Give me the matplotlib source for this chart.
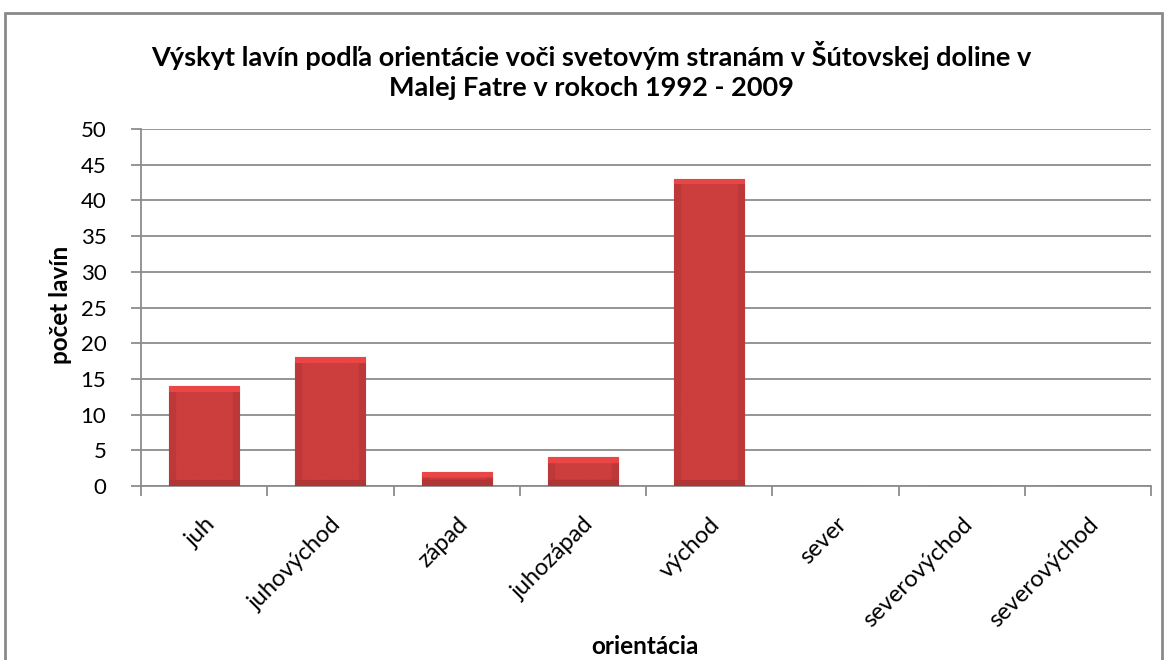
import numpy as np
import matplotlib
matplotlib.use("Agg")
import matplotlib.pyplot as plt
from matplotlib.patches import Rectangle
from matplotlib.transforms import ScaledTranslation

plt.rcParams["font.family"] = ["Lato", "DejaVu Sans"]

categories = ["juh", "juhovýchod", "západ", "juhozápad", "východ",
              "sever", "severovýchod", "severovýchod"]
counts = [14, 18, 2, 4, 43, 0, 0, 0]
y_ticks = list(range(0, 51, 5))

title = ("Výskyt lavín podľa orientácie voči svetovým stranám v Šútovskej doline v\n"
         "Malej Fatre v rokoch 1992 - 2009")

fig = plt.figure(figsize=(11.67, 6.6), dpi=100)
ax = fig.add_axes([141 / 1167, 1 - 486 / 660, 1010 / 1167, 357 / 660])

# outer chart frame
fig.patches.append(Rectangle((5 / 1167, -0.05), 1157 / 1167, 1.05 - 13 / 660,
                             transform=fig.transFigure, fill=False,
                             edgecolor="#8a8a8a", linewidth=2))

x = np.arange(len(categories))
bar_w = 0.555
bars = ax.bar(x, counts, width=bar_w, color="#c93c3c", edgecolor="#8e2626",
              linewidth=0.8, zorder=3)


def bevel_image(h_px, w_px=60, edge=6):
    # simple bevel shading: lighter top band, darker sides and bottom
    base = np.array([0.80, 0.24, 0.24])
    img = np.ones((h_px, w_px, 3)) * base
    for i in range(h_px):
        for j in range(w_px):
            f = 1.0
            if i < edge:
                f = 1.15
            elif i >= h_px - edge:
                f = 0.87
            elif j < edge or j >= w_px - edge:
                f = 0.93
            img[i, j] = np.clip(base * f, 0, 1)
    return img


ax.set_xlim(-0.5, len(categories) - 0.5)
ax.set_ylim(0, 50)
for b, c in zip(bars, counts):
    if c <= 0:
        continue
    hpx = max(int(c / 50 * 357), 8)
    img = bevel_image(hpx)
    x0 = b.get_x()
    im = ax.imshow(img, extent=[x0, x0 + bar_w, 0, c], aspect="auto",
                   zorder=3.5, interpolation="bilinear")
    im.set_clip_path(b)
ax.set_xlim(-0.5, len(categories) - 0.5)
ax.set_ylim(0, 50)

ax.set_yticks(y_ticks)
ax.yaxis.grid(True, color="#8c8c8c", linewidth=1.3, zorder=0)
ax.set_axisbelow(True)

ax.set_xticks(np.arange(len(categories) + 1) - 0.5, minor=False)
ax.set_xticklabels([])
ax.set_xticks(x, minor=True)
ax.set_xticklabels(categories, minor=True, rotation=45, ha="right", va="top",
                   rotation_mode="anchor", fontsize=17)
shift = ScaledTranslation(-8 / 100, 4 / 100, fig.dpi_scale_trans)
for lbl in ax.get_xticklabels(minor=True):
    lbl.set_transform(lbl.get_transform() + shift)
ax.tick_params(axis="x", which="minor", length=0, pad=20)
ax.tick_params(axis="x", which="major", length=7, direction="out",
               color="#8c8c8c", width=1.3)
ax.tick_params(axis="y", length=7, direction="out", color="#8c8c8c",
               width=1.3, labelsize=16, pad=18)

for s in ["top", "right"]:
    ax.spines[s].set_visible(False)
for s in ["left", "bottom"]:
    ax.spines[s].set_color("#8c8c8c")
    ax.spines[s].set_linewidth(1.3)

fig.text(61 / 1167, 1 - 305 / 660, "počet lavín", ha="center", va="center",
         rotation=90, fontsize=17.5, fontweight="bold")
fig.text(645 / 1167, 1 - 646 / 660, "orientácia", ha="center", va="center",
         fontsize=17.5, fontweight="bold")
fig.text(591 / 1167, 1 - 70 / 660, title, ha="center", va="center",
         fontsize=19.5, fontweight="bold", linespacing=1.3)

fig.savefig("out.png", dpi=100)
